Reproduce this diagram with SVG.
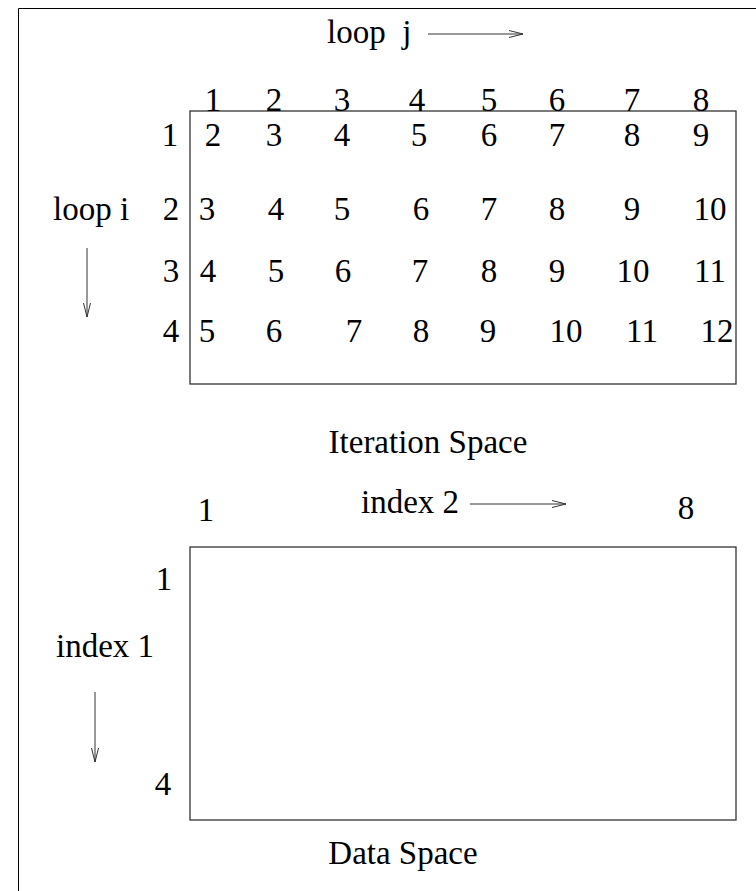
<svg xmlns="http://www.w3.org/2000/svg" width="756" height="891" viewBox="0 0 756 891">
<defs>
<style>
text{font-family:"Liberation Serif","Times New Roman",serif;font-size:33px;fill:#000}
.c{text-anchor:middle}
.ln{stroke:#000;stroke-width:1;fill:none}
.bx{stroke:#333;stroke-width:1.3;fill:none}
.ar{stroke:#333;stroke-width:1;fill:none}
</style>
</defs>
<rect width="756" height="891" fill="#fff"/>
<g id="frame"><path class="ln" d="M18.5,891 V8.5 H756"/></g>
<g id="iteration-space">
<rect class="bx" x="190" y="111" width="546" height="273"/>
<text x="327" y="43" xml:space="preserve">loop  j</text>
<text x="53" y="220">loop i</text>
<g id="col-headers" class="c">
<text x="213" y="111">1</text><text x="274" y="111">2</text><text x="342" y="111">3</text><text x="417" y="111">4</text><text x="489" y="111">5</text><text x="557" y="111">6</text><text x="632" y="111">7</text><text x="701" y="111">8</text>
</g>
<g id="row-labels" class="c">
<text x="170" y="146">1</text><text x="171" y="220">2</text><text x="171" y="282">3</text><text x="171" y="342">4</text>
</g>
<g id="row1" class="c">
<text x="213" y="146">2</text><text x="274" y="146">3</text><text x="342" y="146">4</text><text x="419" y="146">5</text><text x="489" y="146">6</text><text x="557" y="146">7</text><text x="632" y="146">8</text><text x="701" y="146">9</text>
</g>
<g id="row2" class="c">
<text x="207" y="220">3</text><text x="276" y="220">4</text><text x="342" y="220">5</text><text x="421" y="220">6</text><text x="489" y="220">7</text><text x="557" y="220">8</text><text x="632" y="220">9</text><text x="710" y="220">10</text>
</g>
<g id="row3" class="c">
<text x="208" y="282">4</text><text x="276" y="282">5</text><text x="343" y="282">6</text><text x="420" y="282">7</text><text x="489" y="282">8</text><text x="557" y="282">9</text><text x="633" y="282">10</text><text x="710" y="282">11</text>
</g>
<g id="row4" class="c">
<text x="207" y="342">5</text><text x="274" y="342">6</text><text x="354" y="342">7</text><text x="421" y="342">8</text><text x="488" y="342">9</text><text x="566" y="342">10</text><text x="642" y="342">11</text><text x="717" y="342">12</text>
</g>
<text class="c" x="428" y="453">Iteration Space</text>
</g>
<g id="data-space">
<rect class="bx" x="190" y="547" width="546" height="273"/>
<text x="361" y="513">index 2</text>
<text class="c" x="206" y="521">1</text>
<text class="c" x="686" y="519">8</text>
<text class="c" x="164" y="590">1</text>
<text class="c" x="163" y="795">4</text>
<text x="56" y="657">index 1</text>
<text class="c" x="403" y="864">Data Space</text>
</g>
<g id="connectors">
<path class="ar" d="M428,34 H523 M509,30.5 L523,34 L509,37.5"/>
<path class="ar" d="M87,248 V317 M83.5,303 L87,317 L90.5,303"/>
<path class="ar" d="M470,504 H566 M552,500.5 L566,504 L552,507.5"/>
<path class="ar" d="M95,692 V762 M91.5,748 L95,762 L98.5,748"/>
</g>
</svg>
